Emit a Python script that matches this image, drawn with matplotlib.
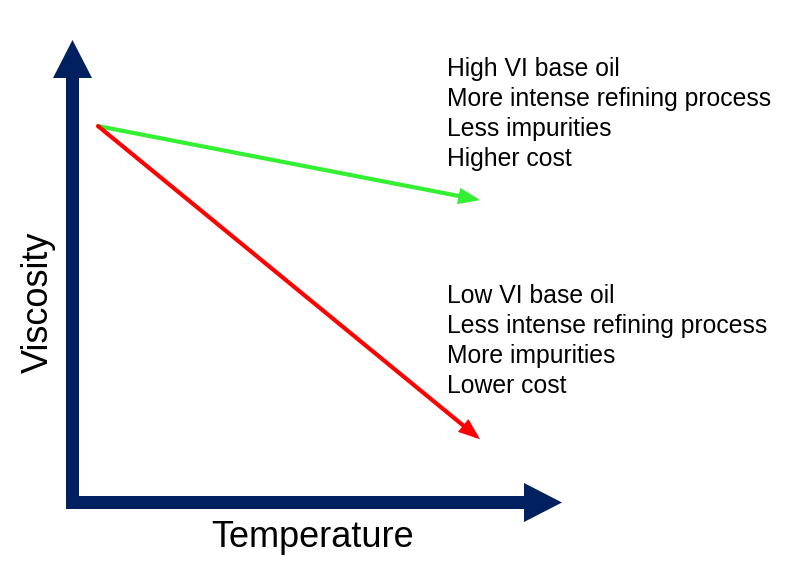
import matplotlib
matplotlib.use('Agg')
import matplotlib.pyplot as plt
from matplotlib.patches import FancyArrowPatch

NAVY = '#002060'
GREEN = '#33F033'
RED = '#FF0000'
FONT = 'Liberation Sans'

# schematic data (arbitrary units, origin at the axes corner)
temperature = [0.64, 10.19]
high_vi = [9.41, 7.56]
low_vi = [9.41, 1.58]

high_vi_notes = ['High VI base oil', 'More intense refining process',
                 'Less impurities', 'Higher cost']
low_vi_notes = ['Low VI base oil', 'Less intense refining process',
                'More impurities', 'Lower cost']

SCALE = 40.0          # pixels per unit
ORIGIN = (72.5, 502.5)


def px(x, y):
    # pixel position -> data units
    return (x - ORIGIN[0]) / SCALE, (ORIGIN[1] - y) / SCALE


fig = plt.figure(figsize=(7.96, 5.80), dpi=100, facecolor='white')
ax = fig.add_axes([0, 0, 1, 1])
x0, y1 = px(0, 0)
x1, y0 = px(796, 580)
ax.set_xlim(x0, x1)
ax.set_ylim(y0, y1)
ax.axis('off')

# axis arrows
shaft = 13 / SCALE
head_w = 39 / SCALE
head_l = 38 / SCALE
bx, by = px(66, 509)
tx, ty = px(562, 40)
ax.arrow(0, by, 0, ty - by, width=shaft, head_width=head_w, head_length=head_l,
         length_includes_head=True, color=NAVY, lw=0)
ax.arrow(bx, 0, tx - bx, 0, width=shaft, head_width=head_w, head_length=head_l,
         length_includes_head=True, color=NAVY, lw=0)

# viscosity-temperature lines
for vals, col in [(high_vi, GREEN), (low_vi, RED)]:
    arr = FancyArrowPatch((temperature[0], vals[0]), (temperature[1], vals[1]),
                          arrowstyle='-|>,head_length=0.5,head_width=0.19',
                          mutation_scale=20, color=col, lw=3.0,
                          shrinkA=0, shrinkB=0, joinstyle='miter')
    ax.add_patch(arr)

# notes
for notes, base in [(high_vi_notes, 76), (low_vi_notes, 303)]:
    for i, s in enumerate(notes):
        x, y = px(447, base + 30 * i)
        ax.text(x, y, s, fontsize=17.8, family=FONT, va='baseline', ha='left')

# axis labels
x, y = px(211, 547)
ax.text(x, y, 'Temperature', fontsize=26, family=FONT, va='baseline', ha='left')
x, y = px(48, 373)
ax.text(x, y, 'Viscosity', fontsize=26, family=FONT, rotation=90,
        rotation_mode='anchor', va='baseline', ha='left')

fig.savefig('out.png', dpi=100, facecolor='white')
